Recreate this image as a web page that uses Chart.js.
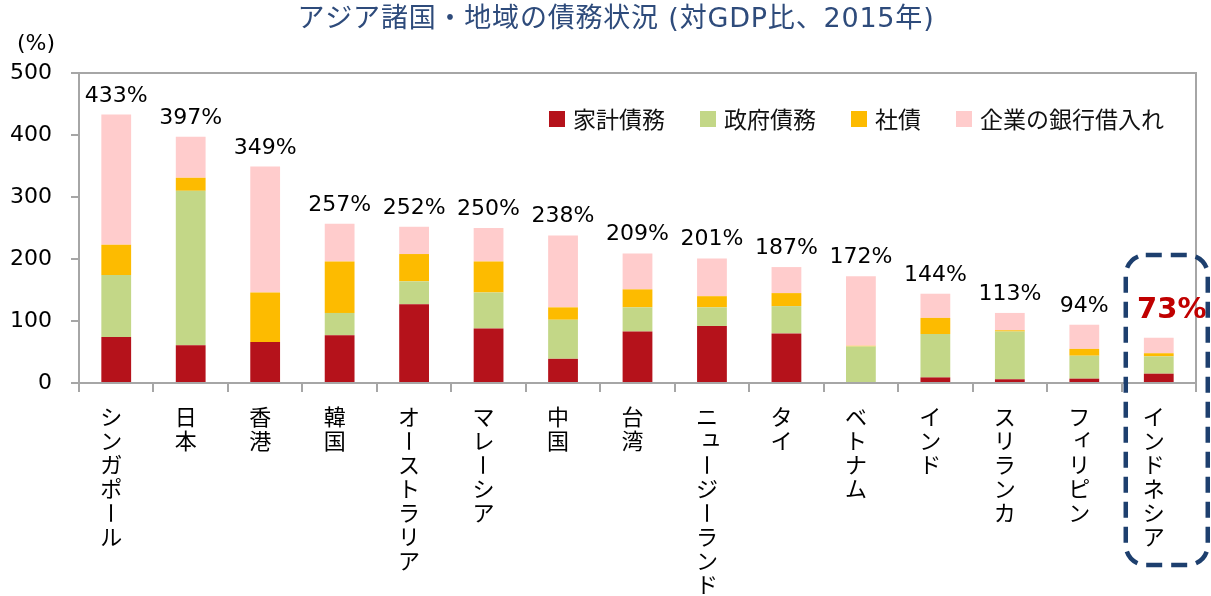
<!DOCTYPE html>
<html>
<head>
<meta charset="utf-8">
<script src="https://cdn.jsdelivr.net/npm/chart.js@4.4.1/dist/chart.umd.min.js"></script>
<style>
  html, body { margin: 0; padding: 0; background: #fff; }
  #chart { display: block; }
</style>
</head>
<body>
<canvas id="chart" width="1211" height="596"></canvas>
<script>
// values (% of GDP, 2015)
const categories = ['シンガポール', '日本', '香港', '韓国', 'オーストラリア', 'マレーシア', '中国', '台湾',
    'ニュージーランド', 'タイ', 'ベトナム', 'インド', 'スリランカ', 'フィリピン', 'インドネシア'];
const household = [74, 61, 66, 77, 127, 88, 39, 83, 92, 80, 0, 9, 6, 7, 15];
const government = [100, 249, 0, 36, 37, 58, 63, 39, 30, 44, 59, 70, 77, 37, 28];
const corporateBonds = [49, 21, 80, 83, 44, 50, 20, 29, 18, 21, 1, 26, 2, 11, 5];
const bankLoans = [210, 66, 203, 61, 44, 54, 116, 58, 61, 42, 112, 39, 28, 39, 25];
const totals = [433, 397, 349, 257, 252, 250, 238, 209, 201, 187, 172, 144, 113, 94, 73];
const yTicks = [0, 100, 200, 300, 400, 500];
const highlight = 'インドネシア';

const JP = '"Noto Sans CJK JP", "Noto Sans", sans-serif';
const LATIN = '"DejaVu Sans", "Noto Sans CJK JP", sans-serif';
const AXIS_GREY = '#A6A6A6';

// title, unit and plot frame
const framePlugin = {
    id: 'frame',
    beforeDatasetsDraw(chart) {
        const { ctx, chartArea: a } = chart;
        ctx.save();
        ctx.strokeStyle = AXIS_GREY;
        ctx.lineWidth = 2;
        ctx.beginPath();
        ctx.moveTo(a.left, a.top);
        ctx.lineTo(a.right, a.top);
        ctx.lineTo(a.right, a.bottom);
        ctx.stroke();
        ctx.restore();
    },
    afterDraw(chart) {
        const { ctx } = chart;
        ctx.save();
        ctx.fillStyle = '#2E4B7B';
        ctx.font = '27px ' + LATIN;
        if ('letterSpacing' in ctx) ctx.letterSpacing = '0.8px';
        ctx.textAlign = 'center';
        ctx.textBaseline = 'middle';
        ctx.fillText('アジア諸国・地域の債務状況 (対GDP比、2015年)', 616, 20);
        if ('letterSpacing' in ctx) ctx.letterSpacing = '0px';
        ctx.fillStyle = '#000';
        ctx.font = '22px ' + LATIN;
        ctx.textAlign = 'left';
        ctx.fillText('(%)', 17, 44);
        ctx.restore();
    }
};

// legend drawn inside the plot area, top right
const legendPlugin = {
    id: 'innerLegend',
    afterDraw(chart) {
        const { ctx } = chart;
        ctx.save();
        ctx.font = '23px ' + JP;
        ctx.textBaseline = 'middle';
        let x = 549;
        const y = 119;
        chart.data.datasets.forEach(ds => {
            ctx.fillStyle = ds.backgroundColor;
            ctx.fillRect(x, y - 8, 16, 16);
            ctx.fillStyle = '#111';
            ctx.fillText(ds.label, x + 24, y);
            x += 24 + ctx.measureText(ds.label).width + 35;
        });
        ctx.restore();
    }
};

// vertical (tategaki) category labels
const verticalLabels = {
    id: 'verticalLabels',
    afterDraw(chart) {
        const { ctx, chartArea: a } = chart;
        const xs = chart.scales.x;
        const small = 'ァィゥェォャュョッ';
        ctx.save();
        ctx.font = '22px ' + JP;
        ctx.fillStyle = '#000';
        ctx.textAlign = 'center';
        ctx.textBaseline = 'middle';
        categories.forEach((name, i) => {
            const cx = xs.getPixelForTick(i) - 5;
            [...name].forEach((ch, j) => {
                const cy = a.bottom + 34 + j * 24;
                if (ch === 'ー') {
                    ctx.save();
                    ctx.translate(cx, cy);
                    ctx.rotate(Math.PI / 2);
                    ctx.fillText(ch, 0, 0);
                    ctx.restore();
                } else if (small.includes(ch)) {
                    ctx.fillText(ch, cx + 4, cy - 4);
                } else {
                    ctx.fillText(ch, cx, cy);
                }
            });
        });
        ctx.restore();
    }
};

// totals above the stacks + dashed box around the highlighted country
const totalLabels = {
    id: 'totalLabels',
    afterDatasetsDraw(chart) {
        const { ctx, chartArea: a } = chart;
        const meta = chart.getDatasetMeta(chart.data.datasets.length - 1);
        const hi = categories.indexOf(highlight);
        ctx.save();
        ctx.textAlign = 'center';
        ctx.textBaseline = 'alphabetic';
        meta.data.forEach((bar, i) => {
            if (i === hi) {
                ctx.font = 'bold 29px ' + LATIN;
                ctx.fillStyle = '#C00000';
                ctx.fillText(totals[i] + '%', bar.x + 13, bar.y - 20);
            } else {
                ctx.font = '22px ' + LATIN;
                ctx.fillStyle = '#000';
                ctx.fillText(totals[i] + '%', bar.x, bar.y - 13);
            }
        });
        const bx = chart.scales.x.getPixelForTick(hi);
        ctx.strokeStyle = '#1D3F6E';
        ctx.lineWidth = 4.5;
        ctx.setLineDash([16, 9]);
        ctx.beginPath();
        ctx.roundRect(bx - 33, a.bottom - 128, 82, 310, 20);
        ctx.stroke();
        ctx.restore();
    }
};

new Chart(document.getElementById('chart'), {
    type: 'bar',
    data: {
        labels: categories,
        datasets: [
            { label: '家計債務', data: household, backgroundColor: '#B5121B' },
            { label: '政府債務', data: government, backgroundColor: '#C3D787' },
            { label: '社債', data: corporateBonds, backgroundColor: '#FDBB00' },
            { label: '企業の銀行借入れ', data: bankLoans, backgroundColor: '#FFCCCC' }
        ]
    },
    options: {
        responsive: false,
        animation: false,
        layout: { padding: { top: 73, right: 15, bottom: 204, left: 0 } },
        datasets: { bar: { barPercentage: 0.4, categoryPercentage: 1.0, borderWidth: 0 } },
        plugins: {
            legend: { display: false },
            title: { display: false },
            tooltip: { enabled: false }
        },
        scales: {
            x: {
                stacked: true,
                ticks: { display: false },
                grid: { offset: true, drawOnChartArea: false, tickLength: 9, color: AXIS_GREY, lineWidth: 2 },
                border: { color: AXIS_GREY, width: 2 }
            },
            y: {
                stacked: true,
                min: 0,
                max: 500,
                afterBuildTicks: s => { s.ticks = yTicks.map(v => ({ value: v })); },
                afterFit: s => { s.width = 79; },
                ticks: { padding: 19, color: '#000', font: { family: 'DejaVu Sans', size: 22 } },
                grid: { drawOnChartArea: false, tickLength: 8, color: AXIS_GREY, lineWidth: 2 },
                border: { color: AXIS_GREY, width: 2 }
            }
        }
    },
    plugins: [framePlugin, legendPlugin, verticalLabels, totalLabels]
});
</script>
</body>
</html>
